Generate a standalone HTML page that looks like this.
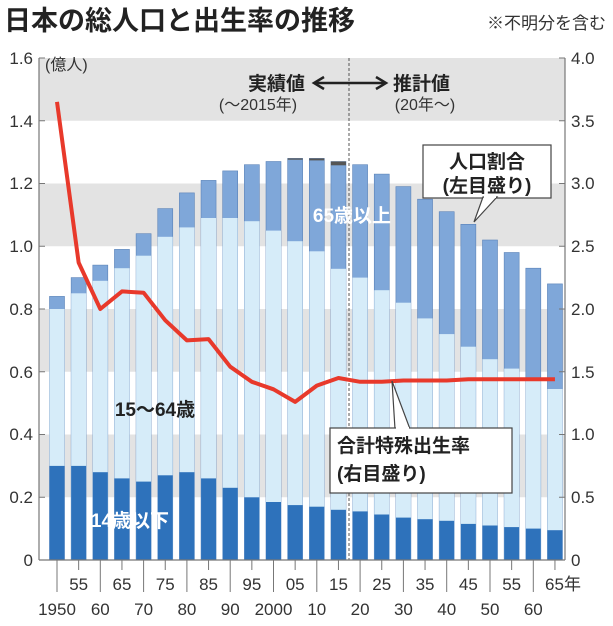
<!DOCTYPE html>
<html><head><meta charset="utf-8"><style>
html,body{margin:0;padding:0;background:#fff;}
svg{display:block;font-family:"Liberation Sans","Noto Sans CJK JP",sans-serif;}
</style></head><body>
<svg width="613" height="626" viewBox="0 0 613 626" xmlns="http://www.w3.org/2000/svg">
<rect width="613" height="626" fill="#fff"/>
<text x="4" y="30" font-size="27" font-weight="bold" fill="#222">日本の総人口と出生率の推移</text>
<text x="606" y="29" font-size="17" fill="#333" text-anchor="end">※不明分を含む</text>
<g fill="#e3e3e3">
<rect x="39" y="58" width="526" height="62.75"/>
<rect x="39" y="183.5" width="526" height="62.75"/>
<rect x="39" y="309" width="526" height="62.75"/>
<rect x="39" y="434.5" width="526" height="62.75"/>
</g>
<!-- elderly (full totals) -->
<g fill="#7fa7d9" stroke="#5a82b8" stroke-width="0.6">
<rect x="49.5" y="296.4" width="15" height="263.6"/>
<rect x="71.15" y="277.6" width="15" height="282.4"/>
<rect x="92.8" y="265.1" width="15" height="294.9"/>
<rect x="114.45" y="249.4" width="15" height="310.6"/>
<rect x="136.1" y="233.7" width="15" height="326.3"/>
<rect x="157.75" y="208.6" width="15" height="351.4"/>
<rect x="179.4" y="192.9" width="15" height="367.1"/>
<rect x="201.05" y="180.4" width="15" height="379.6"/>
<rect x="222.7" y="170.9" width="15" height="389.1"/>
<rect x="244.35" y="164.7" width="15" height="395.3"/>
<rect x="266" y="161.5" width="15" height="398.5"/>
<rect x="287.65" y="158.4" width="15" height="401.6"/>
<rect x="309.3" y="158.4" width="15" height="401.6"/>
<rect x="330.95" y="161.5" width="15" height="398.5"/>
<rect x="352.6" y="164.7" width="15" height="395.3"/>
<rect x="374.25" y="174.1" width="15" height="385.9"/>
<rect x="395.9" y="186.6" width="15" height="373.4"/>
<rect x="417.55" y="199.2" width="15" height="360.8"/>
<rect x="439.2" y="211.7" width="15" height="348.3"/>
<rect x="460.85" y="224.3" width="15" height="335.7"/>
<rect x="482.5" y="240" width="15" height="320"/>
<rect x="504.15" y="252.5" width="15" height="307.5"/>
<rect x="525.8" y="268.2" width="15" height="291.8"/>
<rect x="547.45" y="283.9" width="15" height="276.1"/>
</g>
<g fill="#555">
<rect x="287.65" y="158.4" width="15" height="1.3"/>
<rect x="309.3" y="158.4" width="15" height="2"/>
<rect x="330.95" y="161.5" width="15" height="3.8"/>
</g>
<!-- working -->
<g fill="#d6ecf9">
<rect x="49.5" y="309" width="15" height="251"/>
<rect x="71.15" y="293.3" width="15" height="266.7"/>
<rect x="92.8" y="280.8" width="15" height="279.2"/>
<rect x="114.45" y="268.2" width="15" height="291.8"/>
<rect x="136.1" y="255.7" width="15" height="304.3"/>
<rect x="157.75" y="236.8" width="15" height="323.2"/>
<rect x="179.4" y="227.4" width="15" height="332.6"/>
<rect x="201.05" y="218" width="15" height="342"/>
<rect x="222.7" y="218" width="15" height="342"/>
<rect x="244.35" y="221.2" width="15" height="338.8"/>
<rect x="266" y="230.6" width="15" height="329.4"/>
<rect x="287.65" y="241.2" width="15" height="318.8"/>
<rect x="309.3" y="251.3" width="15" height="308.7"/>
<rect x="330.95" y="268.8" width="15" height="291.2"/>
<rect x="352.6" y="277.6" width="15" height="282.4"/>
<rect x="374.25" y="290.2" width="15" height="269.8"/>
<rect x="395.9" y="302.7" width="15" height="257.3"/>
<rect x="417.55" y="318.4" width="15" height="241.6"/>
<rect x="439.2" y="334.1" width="15" height="225.9"/>
<rect x="460.85" y="346.7" width="15" height="213.3"/>
<rect x="482.5" y="359.2" width="15" height="200.8"/>
<rect x="504.15" y="368.6" width="15" height="191.4"/>
<rect x="525.8" y="378" width="15" height="182"/>
<rect x="547.45" y="389" width="15" height="171"/>
</g>
<!-- young -->
<g fill="#2e72bb">
<rect x="49.5" y="465.9" width="15" height="94.1"/>
<rect x="71.15" y="465.9" width="15" height="94.1"/>
<rect x="92.8" y="472.2" width="15" height="87.8"/>
<rect x="114.45" y="478.4" width="15" height="81.6"/>
<rect x="136.1" y="481.6" width="15" height="78.4"/>
<rect x="157.75" y="475.3" width="15" height="84.7"/>
<rect x="179.4" y="472.2" width="15" height="87.8"/>
<rect x="201.05" y="478.4" width="15" height="81.6"/>
<rect x="222.7" y="487.8" width="15" height="72.2"/>
<rect x="244.35" y="497.3" width="15" height="62.7"/>
<rect x="266" y="502" width="15" height="58"/>
<rect x="287.65" y="505.1" width="15" height="54.9"/>
<rect x="309.3" y="506.7" width="15" height="53.3"/>
<rect x="330.95" y="509.8" width="15" height="50.2"/>
<rect x="352.6" y="511.4" width="15" height="48.6"/>
<rect x="374.25" y="514.5" width="15" height="45.5"/>
<rect x="395.9" y="517.6" width="15" height="42.4"/>
<rect x="417.55" y="519.2" width="15" height="40.8"/>
<rect x="439.2" y="520.8" width="15" height="39.2"/>
<rect x="460.85" y="523.9" width="15" height="36.1"/>
<rect x="482.5" y="525.5" width="15" height="34.5"/>
<rect x="504.15" y="527.1" width="15" height="32.9"/>
<rect x="525.8" y="528.6" width="15" height="31.4"/>
<rect x="547.45" y="530.2" width="15" height="29.8"/>
</g>
<line x1="349" y1="58" x2="349" y2="560" stroke="#555" stroke-width="1" stroke-dasharray="3,2"/>
<g stroke="#777" stroke-width="1.2">
<line x1="39" y1="58" x2="39" y2="560"/>
<line x1="565" y1="58" x2="565" y2="560"/>
<line x1="39" y1="560" x2="565" y2="560"/>
</g>
<g stroke="#777" stroke-width="1">
<path d="M39 58h6M39 120.75h6M39 183.5h6M39 246.25h6M39 309h6M39 371.75h6M39 434.5h6M39 497.25h6M559 58h6M559 120.75h6M559 183.5h6M559 246.25h6M559 309h6M559 371.75h6M559 434.5h6M559 497.25h6"/>
<path d="M57 560v32M100.3 560v32M143.6 560v32M186.9 560v32M230.2 560v32M273.5 560v32M316.8 560v32M360.1 560v32M403.4 560v32M446.7 560v32M490 560v32M533.3 560v32"/>
<path d="M78.65 560v10M121.95 560v10M165.25 560v10M208.55 560v10M251.85 560v10M295.15 560v10M338.45 560v10M381.75 560v10M425.05 560v10M468.35 560v10M511.65 560v10M554.95 560v10"/>
</g>
<g font-size="17" fill="#333" text-anchor="end">
<text x="33" y="566">0</text><text x="33" y="503">0.2</text><text x="33" y="440">0.4</text><text x="33" y="378">0.6</text><text x="33" y="315">0.8</text><text x="33" y="252">1.0</text><text x="33" y="189">1.2</text><text x="33" y="127">1.4</text><text x="33" y="64">1.6</text>
</g>
<g font-size="17" fill="#333">
<text x="571" y="566">0</text><text x="571" y="503">0.5</text><text x="571" y="440">1.0</text><text x="571" y="378">1.5</text><text x="571" y="315">2.0</text><text x="571" y="252">2.5</text><text x="571" y="189">3.0</text><text x="571" y="127">3.5</text><text x="571" y="64">4.0</text>
</g>
<g font-size="17" fill="#333" text-anchor="middle">
<text x="78.65" y="590">55</text><text x="121.95" y="590">65</text><text x="165.25" y="590">75</text><text x="208.55" y="590">85</text><text x="251.85" y="590">95</text><text x="295.15" y="590">05</text><text x="338.45" y="590">15</text><text x="381.75" y="590">25</text><text x="425.05" y="590">35</text><text x="468.35" y="590">45</text><text x="511.65" y="590">55</text><text x="563" y="590">65年</text>
<text x="57" y="615">1950</text><text x="100.3" y="615">60</text><text x="143.6" y="615">70</text><text x="186.9" y="615">80</text><text x="230.2" y="615">90</text><text x="273.5" y="615">2000</text><text x="316.8" y="615">10</text><text x="360.1" y="615">20</text><text x="403.4" y="615">30</text><text x="446.7" y="615">40</text><text x="490" y="615">50</text><text x="533.3" y="615">60</text>
</g>
<text x="45" y="70" font-size="16" fill="#333">(億人)</text>
<text x="305" y="90" font-size="19" font-weight="bold" fill="#222" text-anchor="end">実績値</text>
<text x="393" y="90" font-size="19" font-weight="bold" fill="#222">推計値</text>
<g stroke="#222" stroke-width="2.5" fill="none">
<line x1="316" y1="83" x2="384" y2="83"/>
<polyline points="324,77 314,83 324,89"/>
<polyline points="376,77 386,83 376,89"/>
</g>
<text x="258" y="110" font-size="16" fill="#333" text-anchor="middle">(〜2015年)</text>
<text x="425" y="110" font-size="16" fill="#333" text-anchor="middle">(20年〜)</text>
<polyline fill="none" stroke="#e8392b" stroke-width="4" stroke-linejoin="round" points="57,101.9 78.65,262.6 100.3,309 121.95,291.4 143.6,292.7 165.25,320.3 186.9,340.4 208.55,339.1 230.2,366.7 251.85,381.8 273.5,389.3 295.15,401.9 316.8,385.6 338.45,378 360.1,381.8 381.75,381.8 403.4,380.5 425.05,380.5 446.7,380.5 468.35,379.3 490,379.3 511.65,379.3 533.3,379.3 554.95,379.3"/>
<rect x="423" y="145" width="128" height="53" fill="#fff" stroke="#444" stroke-width="1.2"/>
<polygon points="483,197 497,197 474,222" fill="#fff" stroke="#444" stroke-width="1.2"/>
<line x1="484" y1="197" x2="496" y2="197" stroke="#fff" stroke-width="2"/>
<text x="487" y="168" font-size="19" font-weight="bold" fill="#222" text-anchor="middle">人口割合</text>
<text x="487" y="192" font-size="19" font-weight="bold" fill="#222" text-anchor="middle">(左目盛り)</text>
<polygon points="395,429 410,429 392,381" fill="#fff" stroke="#444" stroke-width="1.2"/>
<rect x="330" y="428" width="182" height="65" fill="#fff" stroke="#444" stroke-width="1.2"/>
<line x1="396" y1="428" x2="409" y2="428" stroke="#fff" stroke-width="2"/>
<text x="337" y="452" font-size="19" font-weight="bold" fill="#222">合計特殊出生率</text>
<text x="337" y="480" font-size="19" font-weight="bold" fill="#222">(右目盛り)</text>
<text x="352" y="222" font-size="19" font-weight="bold" fill="#fff" text-anchor="middle">65歳以上</text>
<text x="155" y="416" font-size="19" font-weight="bold" fill="#222" text-anchor="middle">15〜64歳</text>
<text x="130" y="527" font-size="19" font-weight="bold" fill="#fff" text-anchor="middle">14歳以下</text>
</svg>
</body></html>
